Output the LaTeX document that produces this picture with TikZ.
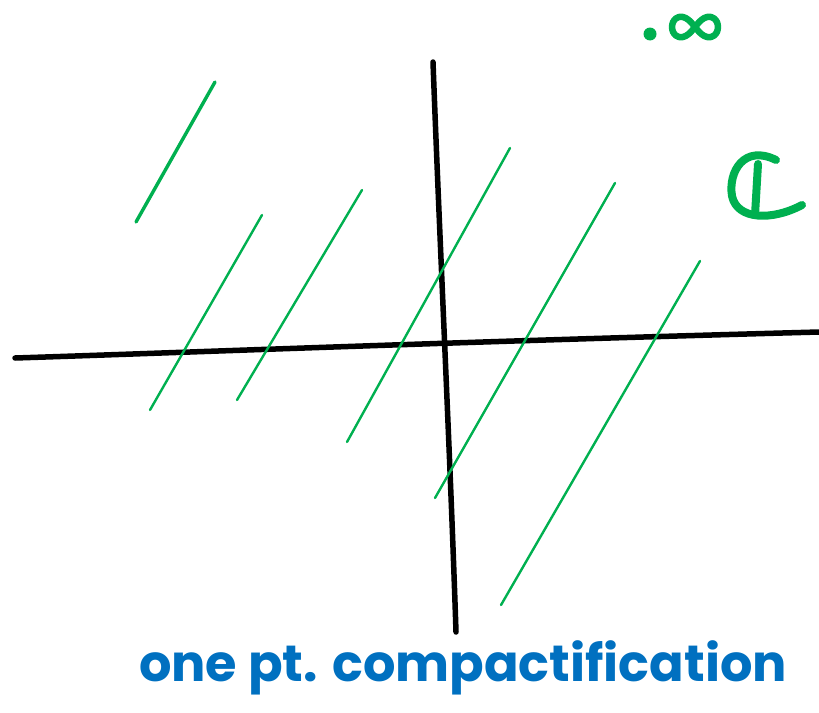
\documentclass[tikz,border=0pt]{standalone}
\usepackage{amsmath}
\usepackage{fontspec}
\setsansfont{Poppins}
\usepackage{tikz}
\usetikzlibrary{positioning}
\definecolor{hatchgreen}{RGB}{0,176,80}
\definecolor{inkblue}{RGB}{0,112,192}

\begin{document}
\begin{tikzpicture}[
    x=1pt, y=-1pt,
    axis/.style={line width=5.5pt, black, line cap=round, line join=round},
    hatch/.style={line width=2.4pt, hatchgreen, line cap=round},
    pen/.style={line width=8pt, hatchgreen, line cap=round, line join=round},
    caption/.style={text=inkblue, inner sep=0pt, font=\sffamily\bfseries\fontsize{51}{55}\selectfont},
  ]
    \useasboundingbox (0,0) rectangle (819,712);
    % axes
    \draw[axis] (15,358) .. controls (200,352) and (450,342) .. (819,332);
    \draw[axis] (433,62) .. controls (440,250) and (450,450) .. (456,632);
    % hatching
    \draw[hatch, line width=3.4pt] (136,222) -- (215,82);
    \draw[hatch] (150,410) -- (262,215);
    \draw[hatch] (237,400) -- (362,190);
    \draw[hatch] (347,442) -- (510,148);
    \draw[hatch] (435,498) -- (615,183);
    \draw[hatch] (501,605) -- (700,261);
    % point at infinity
    \fill[hatchgreen] (650,34) circle (6.5pt);
    \draw[pen, line width=6.5pt] plot[smooth cycle, domain=0:350, samples=36]
      ({695+23*cos(\x)/(1+sin(\x)^2)}, {27+29*sin(\x)*cos(\x)/(1+sin(\x)^2)});
    % the plane C
    \draw[pen] (776,160) .. controls (744,144) and (728,172) .. (732,196)
      .. controls (737,220) and (772,221) .. (802,205);
    \draw[pen] (758,164) -- (755,215);
    \node[caption] (cpt) at (463,668) {one pt. compactification};
  \end{tikzpicture}
\end{document}
